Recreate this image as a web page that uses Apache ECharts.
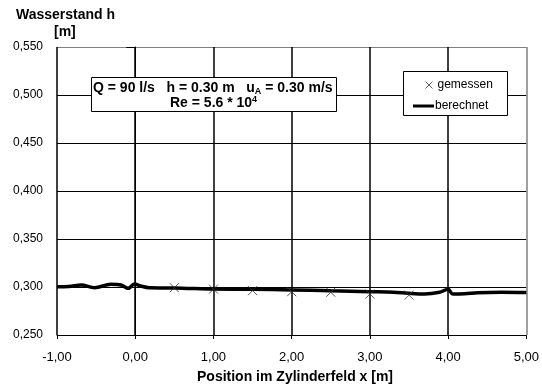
<!DOCTYPE html>
<html>
<head>
<meta charset="utf-8">
<script src="https://cdn.jsdelivr.net/npm/echarts@6/dist/echarts.min.js"></script>
<style>
  html, body { margin: 0; padding: 0; background: #fff; }
  #chart { width: 542px; height: 387px; }
</style>
</head>
<body>
<div id="chart"></div>
<script>
// Calculated water level along the cylinder field
const calcX = [-1.00, -0.85, -0.69, -0.52, -0.31, -0.18, -0.09, -0.01, 0.07, 0.18, 0.40, 0.60, 1.00, 1.50, 2.00, 2.50, 3.00, 3.30, 3.49, 3.70, 3.89, 4.00, 4.06, 4.21, 4.38, 4.68, 5.00];
const calcH = [0.3003, 0.3005, 0.3021, 0.2993, 0.3028, 0.3020, 0.2986, 0.3031, 0.3010, 0.2992, 0.2990, 0.2987, 0.2979, 0.2976, 0.2970, 0.2960, 0.2951, 0.2945, 0.2934, 0.2927, 0.2945, 0.2976, 0.2927, 0.2929, 0.2940, 0.2945, 0.2942];

// Measured water level
const measX = [0.5, 1.0, 1.5, 2.0, 2.5, 3.0, 3.5];
const measH = [0.2993, 0.2978, 0.2962, 0.2951, 0.2945, 0.2927, 0.2915];

// Axis ranges
const xMin = -1, xMax = 5, xStep = 1;
const yMin = 0.25, yMax = 0.55, yStep = 0.05;

const FONT = '"Liberation Sans", Arial, sans-serif';
const crossPath = 'path://M0,0L10,10M10,0L0,10';

const chart = echarts.init(document.getElementById('chart'), null, { renderer: 'canvas' });

// plot frame: last split line (top / right edge) is grey
const ySplitColors = [];
for (let v = yMin; v <= yMax + 1e-9; v += yStep) ySplitColors.push('#000');
ySplitColors[ySplitColors.length - 1] = '#808080';
const xSplitColors = [];
for (let v = xMin; v <= xMax + 1e-9; v += xStep) xSplitColors.push('#000');
xSplitColors[xSplitColors.length - 1] = '#808080';

chart.setOption({
  animation: false,
  backgroundColor: '#fff',
  textStyle: { fontFamily: FONT },
  grid: { left: 57, right: 14, top: 47, bottom: 52, containLabel: false },
  xAxis: {
    type: 'value', min: xMin, max: xMax, interval: xStep,
    axisLine: { show: true, onZero: false, lineStyle: { color: '#000', width: 1 } },
    axisTick: { show: true, inside: false, length: 4, lineStyle: { color: '#000' } },
    axisLabel: { color: '#000', fontSize: 13, fontFamily: FONT, margin: 16,
      formatter: v => v.toFixed(2).replace('.', ',') },
    splitLine: { show: true, lineStyle: { color: xSplitColors, width: 1.5 } }
  },
  yAxis: {
    type: 'value', min: yMin, max: yMax, interval: yStep,
    axisLine: { show: true, lineStyle: { color: '#000', width: 1 } },
    axisTick: { show: true, inside: false, length: 9, lineStyle: { color: '#000' } },
    axisLabel: { color: '#000', fontSize: 12, fontFamily: FONT, margin: 14,
      formatter: v => v.toFixed(3).replace('.', ',') },
    splitLine: { show: true, lineStyle: { color: ySplitColors, width: 1 } }
  },
  legend: [
    {
      left: 420, top: 74, orient: 'vertical',
      itemWidth: 7, itemHeight: 7, itemGap: 4, z: 10,
      textStyle: { color: '#000', fontSize: 12, fontFamily: FONT, padding: [0, 0, 0, 0] },
      data: [{ name: 'gemessen', icon: crossPath,
        itemStyle: { color: 'transparent', borderColor: '#333', borderWidth: 1 } }]
    },
    {
      left: 408, top: 95, orient: 'vertical',
      itemWidth: 21, itemHeight: 3, z: 10, itemGap: 0,
      textStyle: { color: '#000', fontSize: 12, fontFamily: FONT, padding: [0, 0, 0, -4] },
      data: [{ name: 'berechnet', icon: 'rect', itemStyle: { color: '#000' } }]
    }
  ],
  series: [
    {
      name: 'berechnet', type: 'line', smooth: 0.35, showSymbol: false,
      data: calcX.map((x, i) => [x, calcH[i]]),
      lineStyle: { color: '#000', width: 3.5 },
      itemStyle: { color: '#000' }, z: 3
    },
    {
      name: 'gemessen', type: 'scatter', symbol: crossPath, symbolSize: 9,
      data: measX.map((x, i) => [x, measH[i]]),
      itemStyle: { color: 'transparent', borderColor: '#333', borderWidth: 1 }, z: 4
    }
  ],
  graphic: [
    // legend frame
    { type: 'rect', left: 403, top: 71, z: 5,
      shape: { width: 104, height: 44 },
      style: { fill: '#fff', stroke: '#000', lineWidth: 1 } },
    // flow parameter box
    { type: 'rect', left: 91, top: 77, z: 5,
      shape: { width: 245, height: 34 },
      style: { fill: '#fff', stroke: '#000', lineWidth: 1 } },
    { type: 'text', left: 93, top: 80, z: 6,
      style: {
        text: 'Q = 90 l/s   h = 0.30 m   u{sub|A} = 0.30 m/s',
        font: 'bold 14px ' + FONT, fill: '#000',
        rich: { sub: { fontSize: 9, fontWeight: 'bold', lineHeight: 8, verticalAlign: 'bottom', fill: '#000' } },
        lineHeight: 16
      } },
    { type: 'text', left: 170, top: 95, z: 6,
      style: {
        text: 'Re = 5.6 * 10{sup|4}',
        font: 'bold 14px ' + FONT, fill: '#000',
        rich: { sup: { fontSize: 9, fontWeight: 'bold', lineHeight: 8, verticalAlign: 'top', fill: '#000' } },
        lineHeight: 16
      } },
    // axis titles
    { type: 'text', left: 16, top: 8, z: 6,
      style: { text: 'Wasserstand h', font: 'bold 14px ' + FONT, fill: '#000' } },
    { type: 'text', left: 54, top: 25, z: 6,
      style: { text: '[m]', font: 'bold 14px ' + FONT, fill: '#000' } },
    { type: 'text', left: 197, top: 370, z: 6,
      style: { text: 'Position im Zylinderfeld x [m]', font: 'bold 14px ' + FONT, fill: '#000' } }
  ]
});
</script>
</body>
</html>
